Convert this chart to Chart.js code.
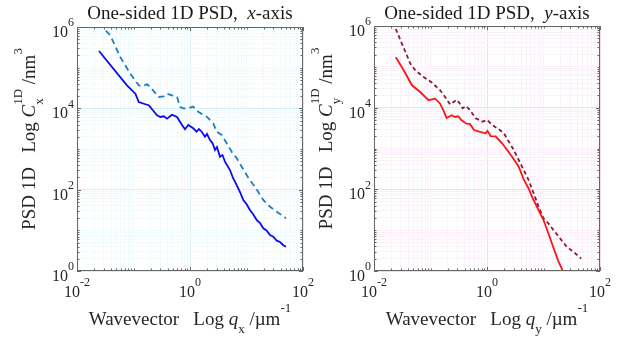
<!DOCTYPE html>
<html>
<head>
<meta charset="utf-8">
<script src="https://cdn.jsdelivr.net/npm/chart.js@4.4.1/dist/chart.umd.min.js"></script>
<style>
html,body{margin:0;padding:0;background:#fff;}
#wrap{position:relative;width:623px;height:340px;overflow:hidden;}
canvas{position:absolute;top:0;}
</style>
</head>
<body>
<div id="wrap">
  <canvas id="psdX" width="335" height="340" style="left:0"></canvas>
  <canvas id="psdY" width="312" height="340" style="left:311px"></canvas>
</div>
<script>
// tick labels (powers of ten)
const xTickVals = [0.01, 1, 100];
const xTickExp  = ['-2', '0', '2'];
const yTickVals = [1, 100, 1e4, 1e6];
const yTickExp  = ['0', '2', '4', '6'];

// x-axis PSD, solid (raw) and dashed
const qxSolid = [0.0245,0.0759,0.108,0.124,0.162,0.186,0.261,0.298,0.343,0.392,0.480,0.589,0.722,0.816,0.933,1.14,1.31,1.44,1.61,1.84,2.0,2.26,2.5,2.77,3.0,3.40,3.76,4.16,5.10,5.77,6.71,7.67,8.78,10.0,11.5,13.0,15.2,17.4,19.8,22.6,26.1,29.4,34.3,39.2,44.3,50.0];
const cxSolid = [2.57e5,3.74e4,2.29e4,1.43e4,1.26e4,1.19e4,6730,6120,6370,5560,6970,6120,3890,3050,3890,3230,2660,3100,2660,2000,2340,1660,1400,944,1120,646,711,487,304,194,130,87.6,55.7,44.4,31.6,25.2,17.9,15.1,11.2,9.9,7.68,7.05,5.56,5.16,4.36,3.96];
const qxDash = [0.0245,0.0388,0.0583,0.0877,0.124,0.141,0.173,0.198,0.279,0.343,0.392,0.480,0.589,0.673,0.760,0.933,1.14,1.40,1.72,1.98,2.58,2.97,3.64,4.46,5.47,6.71,8.23,11.1,14.1,19.8,26.1,34.3,50.0];
const cxDash = [1.23e6,6.24e5,1.83e5,7.10e4,3.68e4,3.48e4,3.90e4,3.34e4,1.90e4,1.98e4,2.29e4,2.09e4,1.90e4,1.08e4,1.00e4,1.00e4,1.10e4,8260,6850,6220,4280,2660,2210,1380,858,590,367,183,118,55.7,38.1,28.7,19.8];

// y-axis PSD, solid (raw) and dashed
const qySolid = [0.0243,0.0336,0.0470,0.0659,0.0922,0.121,0.148,0.169,0.193,0.237,0.271,0.310,0.354,0.433,0.497,0.591,0.724,0.949,1.02,1.16,1.42,1.85,2.27,2.78,3.64,4.46,5.46,6.24,8.17,10.0,12.2,15.0,18.3,24.3];
const cySolid = [1.71e5,8.23e4,3.53e4,2.42e4,1.52e4,1.66e4,1.25e4,8630,5580,6500,5910,6150,4910,4050,4000,2840,2580,2360,2700,2020,1970,1340,919,630,358,175,105,66,31.2,17.7,8.4,3.7,1.75,0.75];
const qyDash = [0.0243,0.0294,0.0360,0.0441,0.0539,0.0754,0.105,0.148,0.181,0.222,0.271,0.301,0.369,0.428,0.497,0.634,0.828,1.01,1.24,1.62,1.99,2.43,2.98,3.64,4.46,5.46,6.7,8.17,10.0,12.2,15.0,19.6,25.7,33.6,46.4];
const cyDash = [8.45e5,4.47e5,2.31e5,1.19e5,8.22e4,5.64e4,4.14e4,2.67e4,1.83e4,1.20e4,1.46e4,1.54e4,9660,1.10e4,8770,5490,4540,4990,3770,2950,2360,1470,919,523,298,169,80,37.6,19.5,14.7,10.1,6.32,3.94,2.97,2.02];

const FONT = '"Liberation Serif", "Times New Roman", serif';
const TXT = '#262626';

function richText(ctx, segs, x, y, base, align, opt) {
  const supK = opt.sup, subK = opt.sub, small = opt.small || Math.round(base * 0.7);
  const fontOf = s => (s.i ? 'italic ' : '') + (s.k ? small : base) + 'px ' + FONT;
  // measure first so the whole run can be centred
  let w = 0, lastW = 0;
  segs.forEach(s => {
    ctx.font = fontOf(s);
    const sw = ctx.measureText(s.t).width;
    if (s.stack) { w += Math.max(0, sw - lastW); lastW = Math.max(lastW, sw); }
    else { w += sw; lastW = sw; }
  });
  let cx = align === 'center' ? x - w / 2 : align === 'right' ? x - w : x;
  let lastStart = cx; lastW = 0;
  segs.forEach(s => {
    ctx.font = fontOf(s);
    const sw = ctx.measureText(s.t).width;
    const sx = s.stack ? lastStart : cx;
    const dy = s.k === 'sup' ? -base * supK : s.k === 'sub' ? base * subK : 0;
    ctx.fillText(s.t, sx, y + dy);
    if (s.stack) { lastW = Math.max(lastW, sw); cx = lastStart + lastW; }
    else { lastStart = sx; lastW = sw; cx = sx + sw; }
  });
}

const framePlugin = {
  id: 'frame',
  afterDraw(chart, args, o) {
    const {ctx, chartArea: a, scales} = chart;
    ctx.save();
    ctx.strokeStyle = '#666';
    ctx.lineWidth = 1;
    ctx.strokeRect(a.left + 0.5, a.top + 0.5, a.right - a.left - 1, a.bottom - a.top - 1);
    // inward ticks on all four sides
    ctx.beginPath();
    scales.x.ticks.forEach(t => {
      const px = Math.round(scales.x.getPixelForValue(t.value)) + 0.5;
      const len = t.major ? 4 : 2.5;
      ctx.moveTo(px, a.bottom); ctx.lineTo(px, a.bottom - len);
      ctx.moveTo(px, a.top); ctx.lineTo(px, a.top + len);
    });
    scales.y.ticks.forEach(t => {
      const py = Math.round(scales.y.getPixelForValue(t.value)) + 0.5;
      const len = t.major ? 4 : 2.5;
      ctx.moveTo(a.left, py); ctx.lineTo(a.left + len, py);
      ctx.moveTo(a.right, py); ctx.lineTo(a.right - len, py);
    });
    ctx.stroke();
    // tick labels
    ctx.fillStyle = TXT;
    ctx.textBaseline = 'alphabetic';
    const tk = {sup: 0.66, sub: 0.3, small: 12};
    xTickVals.forEach((v, i) => {
      const px = scales.x.getPixelForValue(v);
      richText(ctx, [{t: '10'}, {t: xTickExp[i], k: 'sup'}], px, a.bottom + 26, 16, 'center', tk);
    });
    yTickVals.forEach((v, i) => {
      const py = scales.y.getPixelForValue(v);
      richText(ctx, [{t: '10'}, {t: yTickExp[i], k: 'sup'}], a.left - 3, py + 10, 16, 'right', tk);
    });
    // titles
    const tt = {sup: 0.68, sub: 0.42};
    const mid = (a.left + a.right) / 2;
    ctx.fillStyle = '#1a1a1a';
    richText(ctx, o.title, mid, 19, 19, 'center', tt);
    ctx.fillStyle = TXT;
    richText(ctx, o.xTitle, mid, 325, 19, 'center', tt);
    ctx.translate(o.yTitleX, (a.top + a.bottom) / 2 - 10);
    ctx.rotate(-Math.PI / 2);
    richText(ctx, o.yTitle, 0, 0, 19, 'center', tt);
    ctx.restore();
  }
};

// 1..9 x 10^n ticks; only the labelled (even) decades count as major
function logTicks(min, max) {
  const out = [];
  for (let e = Math.log10(min); e <= Math.log10(max); e++) {
    for (let m = 1; m <= 9; m++) {
      const v = m * Math.pow(10, e);
      if (v > max * 1.0001) break;
      out.push({value: v, major: m === 1 && e % 2 === 0});
    }
  }
  return out;
}

function pts(q, c) { return q.map((v, i) => ({x: v, y: c[i]})); }

function makeChart(id, c) {
  const gridCol = ctx => (ctx.tick && ctx.tick.major) ? c.gridMajor : c.gridMinor;
  return new Chart(document.getElementById(id), {
    type: 'scatter',
    data: {
      datasets: [
        {data: pts(c.q1, c.c1), borderColor: c.col1, borderWidth: 1.8, showLine: true, pointRadius: 0, tension: 0, clip: 0},
        {data: pts(c.q2, c.c2), borderColor: c.col2, borderWidth: 1.8, borderDash: c.dash, showLine: true, pointRadius: 0, tension: 0, clip: 0}
      ]
    },
    options: {
      responsive: false,
      animation: false,
      events: [],
      layout: {padding: c.pad},
      plugins: {
        legend: {display: false},
        tooltip: {enabled: false},
        frame: {title: c.title, xTitle: c.xTitle, yTitle: c.yTitle, yTitleX: c.yTitleX}
      },
      scales: {
        x: {
          type: 'logarithmic', min: 0.01, max: 100,
          afterBuildTicks: s => { s.ticks = logTicks(0.01, 100); },
          ticks: {display: false},
          grid: {color: gridCol, drawTicks: false},
          border: {display: false}
        },
        y: {
          type: 'logarithmic', min: 1, max: 1e6,
          afterBuildTicks: s => { s.ticks = logTicks(1, 1e6); },
          ticks: {display: false},
          grid: {color: gridCol, drawTicks: false},
          border: {display: false}
        }
      }
    },
    plugins: [framePlugin]
  });
}

makeChart('psdX', {
  q1: qxSolid, c1: cxSolid, q2: qxDash, c2: cxDash,
  col1: '#0a0af5', col2: '#1b7fc4', dash: [6, 4],
  gridMajor: '#d6f0f6', gridMinor: '#f1fafc',
  pad: {left: 77, top: 27, right: 32, bottom: 69},
  yTitleX: 35,
  title: [{t: 'One-sided 1D PSD,  '}, {t: 'x', i: true}, {t: '-axis'}],
  xTitle: [{t: 'Wavevector   Log '}, {t: 'q', i: true}, {t: 'x', k: 'sub'}, {t: ' /\u00b5m'}, {t: '-1', k: 'sup'}],
  yTitle: [{t: 'PSD 1D   Log '}, {t: 'C', i: true}, {t: '1D', k: 'sup'}, {t: 'x', k: 'sub', stack: true}, {t: ' /nm'}, {t: '3', k: 'sup'}]
});

makeChart('psdY', {
  q1: qySolid, c1: cySolid, q2: qyDash, c2: cyDash,
  col1: '#ff1414', col2: '#8c1838', dash: [4, 3],
  gridMajor: '#f5d9ef', gridMinor: '#fcf1fa',
  pad: {left: 63, top: 26, right: 23, bottom: 69},
  yTitleX: 21,
  title: [{t: 'One-sided 1D PSD,  '}, {t: 'y', i: true}, {t: '-axis'}],
  xTitle: [{t: 'Wavevector   Log '}, {t: 'q', i: true}, {t: 'y', k: 'sub'}, {t: ' /\u00b5m'}, {t: '-1', k: 'sup'}],
  yTitle: [{t: 'PSD 1D   Log '}, {t: 'C', i: true}, {t: '1D', k: 'sup'}, {t: 'y', k: 'sub', stack: true}, {t: ' /nm'}, {t: '3', k: 'sup'}]
});
</script>
</body>
</html>
